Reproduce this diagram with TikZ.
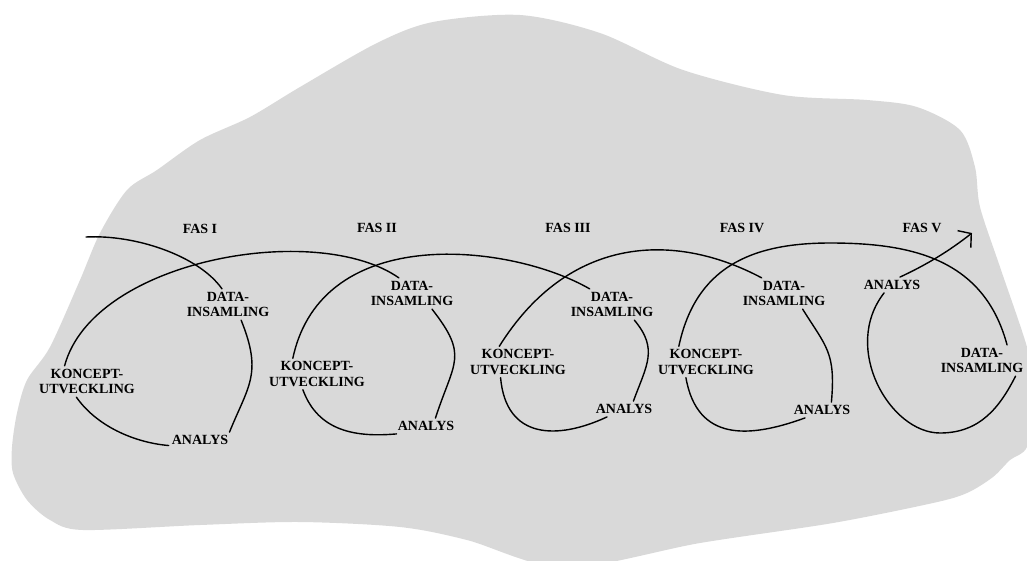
\documentclass[tikz,border=0pt]{standalone}
\usepackage{fontspec}
\setmainfont{Liberation Serif}
\usetikzlibrary{arrows.meta}
\definecolor{BlobGray}{RGB}{217,217,217}

\begin{document}
\begin{tikzpicture}[x=1pt, y=1pt,
    lbl/.style={font=\bfseries\fontsize{14}{15.5}\selectfont, align=center, inner sep=3pt},
    coil/.style={line width=1.4pt, line cap=round}]
    \useasboundingbox (0,0) rectangle (1027,-560);

    % Background
    \fill[BlobGray] plot[smooth cycle, tension=0.5] coordinates {
        (520,-15) (600,-33) (683,-70) (783,-95) (867,-100) (917,-107) (960,-130)
        (975,-167) (980,-207) (1000,-267) (1027,-347) (1038,-400) (1027,-447)
        (1010,-460) (993,-477) (967,-493) (933,-503) (833,-523) (700,-543)
        (565,-568) (467,-540) (400,-527) (300,-522) (200,-525) (83,-530)
        (50,-520) (27,-500) (13,-473) (12,-447) (17,-413) (27,-380) (50,-347)
        (80,-280) (100,-233) (127,-190) (157,-170) (200,-140) (250,-117)
        (300,-87) (377,-43) (433,-22)};

    % Phase titles
    \node[lbl] (fas1) at (200,-229) {FAS I};
    \node[lbl] (fas2) at (377,-228) {FAS II};
    \node[lbl] (fas3) at (568,-228) {FAS III};
    \node[lbl] (fas4) at (742,-228) {FAS IV};
    \node[lbl] (fas5) at (922,-228) {FAS V};

    % Phase I
    \node[lbl] (d1) at (228,-304.5) {DATA-\\INSAMLING};
    \node[lbl] (k1) at (87,-381.5) {KONCEPT-\\UTVECKLING};
    \node[lbl] (a1) at (200,-440) {ANALYS};
    % Phase II
    \node[lbl] (d2) at (412,-293.5) {DATA-\\INSAMLING};
    \node[lbl] (k2) at (317,-374) {KONCEPT-\\UTVECKLING};
    \node[lbl] (a2) at (426,-426) {ANALYS};
    % Phase III
    \node[lbl] (d3) at (612,-304.5) {DATA-\\INSAMLING};
    \node[lbl] (k3) at (518,-362) {KONCEPT-\\UTVECKLING};
    \node[lbl] (a3) at (624,-409) {ANALYS};
    % Phase IV
    \node[lbl] (d4) at (784,-293.5) {DATA-\\INSAMLING};
    \node[lbl] (k4) at (706,-362) {KONCEPT-\\UTVECKLING};
    \node[lbl] (a4) at (822,-410) {ANALYS};
    % Phase V
    \node[lbl] (a5) at (892,-285) {ANALYS};
    \node[lbl] (d5) at (982,-360.5) {DATA-\\INSAMLING};

    \coordinate (start) at (86,-237);
    \coordinate (top4) at (830,-243);
    \coordinate (low5) at (940,-433);
    \coordinate (tip) at (972,-233);

    % Coil
    \draw[coil] (start) .. controls +(3:50) and +(125:40) .. (d1.111);
    \draw[coil] (d1.-50) .. controls +(-68:58) and +(68:50) .. (a1.15);
    \draw[coil] (a1.190) .. controls +(175:35) and +(-55:35) .. (k1.236);
    \draw[coil] (k1.145) .. controls +(75:110) and +(145:100) .. (d2.130);
    \draw[coil] (d2.-38) .. controls +(-52:60) and +(72:60) .. (a2.40);
    \draw[coil] (a2.195) .. controls +(185:40) and +(-70:45) .. (k2.228);
    \draw[coil] (k2.147) .. controls +(78:140) and +(150:90) .. (d3.145);
    \draw[coil] (d3.-35) .. controls +(-50:38) and +(70:38) .. (a3.40);
    \draw[coil] (a3.205) .. controls +(205:55) and +(-85:62) .. (k3.222);
    \draw[coil] (k3.140) .. controls +(58:130) and +(152:100) .. (d4.145);
    \draw[coil] (d4.-40) .. controls +(-58:45) and +(85:50) .. (a4.40);
    \draw[coil] (a4.205) .. controls +(200:60) and +(-80:65) .. (k4.218);
    \draw[coil] (k4.150) .. controls +(78:80) and +(180:80) .. (top4)
                .. controls +(0:80) and +(105:90) .. (d5.32);
    \draw[coil] (d5.-25) .. controls +(-117:35) and +(0:40) .. (low5)
                .. controls +(180:50) and +(-128:70) .. (a5.225);
    \draw[coil, -{Straight Barb[angle=100:14pt]}] (a5.45) .. controls +(25:30) and +(218:30) .. (tip);
\end{tikzpicture}
\end{document}
